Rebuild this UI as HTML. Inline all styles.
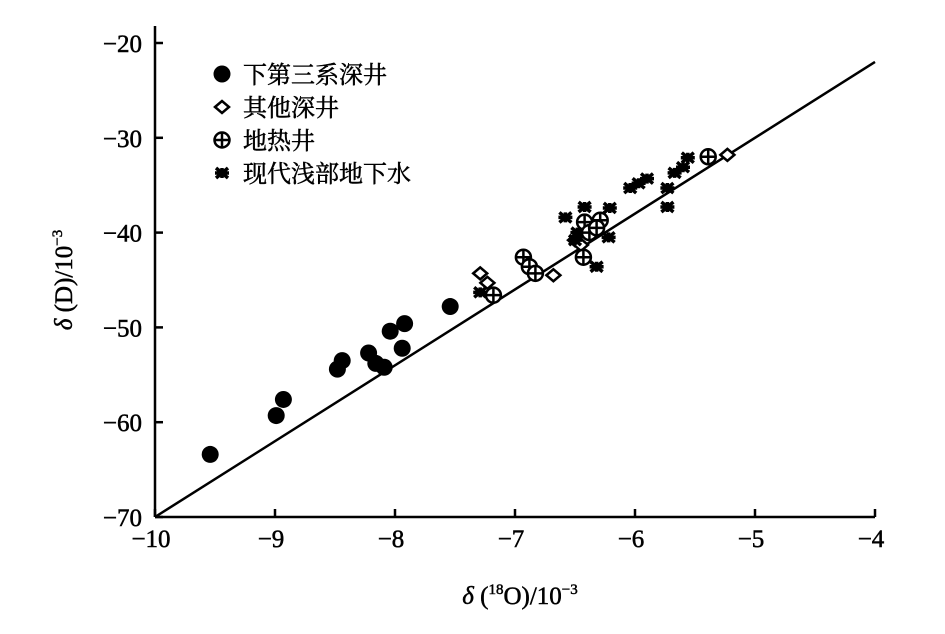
<!DOCTYPE html>
<html><head><meta charset="utf-8"><style>
body{margin:0;background:#fff}
svg text{font-family:"Liberation Serif","Noto Serif CJK SC",serif;fill:#000;stroke:#000;stroke-width:0.5}
</style></head><body>
<svg width="945" height="629" viewBox="0 0 945 629">
<g id="axes"></g>
<g id="marks"></g>
<g id="legend"></g>
<text x="72" y="280" font-size="25" text-anchor="middle" transform="rotate(-90 72 280)"><tspan font-style="italic">δ</tspan> (D)/10<tspan font-size="15" dy="-10">−3</tspan></text>
<text x="520" y="604" font-size="25" text-anchor="middle"><tspan font-style="italic">δ</tspan> (<tspan font-size="15" dy="-10">18</tspan><tspan dy="10">O)/10</tspan><tspan font-size="15" dy="-10">−3</tspan></text>
</svg>
<script>
const xTicks=[-10,-9,-8,-7,-6,-5,-4];
const yTicks=[-20,-30,-40,-50,-60,-70];
const deepX=[-9.54,-8.99,-8.93,-8.48,-8.44,-8.22,-8.16,-8.09,-8.04,-7.92,-7.94,-7.54];
const deepY=[-63.4,-59.3,-57.6,-54.4,-53.5,-52.7,-53.8,-54.2,-50.4,-49.6,-52.2,-47.8];
const otherX=[-7.29,-7.23,-6.68,-6.5,-6.45,-5.23];
const otherY=[-44.3,-45.3,-44.5,-40.8,-41.3,-31.8];
const geoX=[-7.18,-6.93,-6.88,-6.83,-6.42,-6.29,-6.38,-6.43,-5.39,-6.32];
const geoY=[-46.6,-42.6,-43.6,-44.3,-38.9,-38.7,-40.0,-42.6,-32.0,-39.5];
const shX=[-7.29,-6.58,-6.42,-6.21,-6.22,-6.48,-6.32,-6.04,-5.97,-5.9,-5.73,-5.73,-5.67,-5.6,-5.56,-6.5];
const shY=[-46.3,-38.4,-37.3,-37.4,-40.5,-40.0,-43.6,-35.3,-34.8,-34.3,-35.3,-37.3,-33.7,-33.1,-32.1,-40.8];
const lineX=[-10,-4];
const legendLabels=["下第三系深井","其他深井","地热井","现代浅部地下水"];
const NS="http://www.w3.org/2000/svg";
const sx=v=>155+(v+10)*120;
const sy=v=>43+(-20-v)*9.48;
const lineY=x=>8*x+10;
function mk(tag,attrs,parent){const e=document.createElementNS(NS,tag);for(const k in attrs)e.setAttribute(k,attrs[k]);parent.appendChild(e);return e;}
const axes=document.getElementById('axes'),marks=document.getElementById('marks'),lg=document.getElementById('legend');
let e=mk('line',{x1:155,y1:26,x2:155,y2:sy(-70),stroke:'#000','stroke-width':2.5},axes);


e=mk('line',{x1:155,y1:sy(-70),x2:sx(-4),y2:sy(-70),stroke:'#000','stroke-width':2.5},axes);


xTicks.forEach(t=>{
 let l=mk('line',{x1:sx(t),y1:sy(-70),x2:sx(t),y2:sy(-70)-8,stroke:'#000','stroke-width':2.5},axes);
 
 
 let tx=mk('text',{x:sx(t)-4,y:sy(-70)+30,'font-size':25,'text-anchor':'middle'},axes);tx.textContent='−'+Math.abs(t);
 
 
});
yTicks.forEach(t=>{
 let l=mk('line',{x1:155,y1:sy(t),x2:163,y2:sy(t),stroke:'#000','stroke-width':2.5},axes);
 
 
 let tx=mk('text',{x:142,y:sy(t)+9,'font-size':25,'text-anchor':'end'},axes);tx.textContent='−'+Math.abs(t);
 
 
});
e=mk('line',{x1:sx(lineX[0]),y1:sy(lineY(lineX[0])),x2:sx(lineX[1]),y2:sy(lineY(lineX[1])),stroke:'#000','stroke-width':2.5},marks);


function dot(x,y,p){return mk('circle',{cx:x,cy:y,r:8.5,fill:'#000'},p);}
function dia(x,y,p){return mk('path',{d:`M${x-7} ${y}L${x} ${y-6}L${x+7} ${y}L${x} ${y+6}Z`,fill:'#fff',stroke:'#000','stroke-width':2.5},p);}
function geo(x,y,p){const g=mk('g',{},p);mk('circle',{cx:x,cy:y,r:7.5,fill:'#fff',stroke:'#000','stroke-width':2.5},g);mk('path',{d:`M${x-7} ${y}H${x+7}M${x} ${y-7}V${y+7}`,stroke:'#000','stroke-width':2.5},g);return g;}
function star(x,y,p){const g=mk('g',{},p);mk('path',{d:`M${x-6} ${y-5}L${x+6} ${y+5}M${x-6} ${y+5}L${x+6} ${y-5}M${x-7} ${y}H${x+7}M${x} ${y-5}V${y+5}`,stroke:'#000','stroke-width':3.5},g);return g;}
deepX.forEach((v,i)=>{const m=dot(sx(v),sy(deepY[i]),marks);
 
 });
otherX.forEach((v,i)=>{const m=dia(sx(v),sy(otherY[i]),marks);
 
 });
shX.forEach((v,i)=>{const m=star(sx(v),sy(shY[i]),marks);
 
 });
geoX.forEach((v,i)=>{const m=geo(sx(v),sy(geoY[i]),marks);
 
 });
const fns=[dot,dia,geo,star];
legendLabels.forEach((s,i)=>{
 const y=74+i*33;
 const m=fns[i](222,y,lg);
 
 
 const t=mk('text',{x:243,y:y+9,'font-size':24},lg);t.textContent=s;
 
 
});
</script>
</body></html>
